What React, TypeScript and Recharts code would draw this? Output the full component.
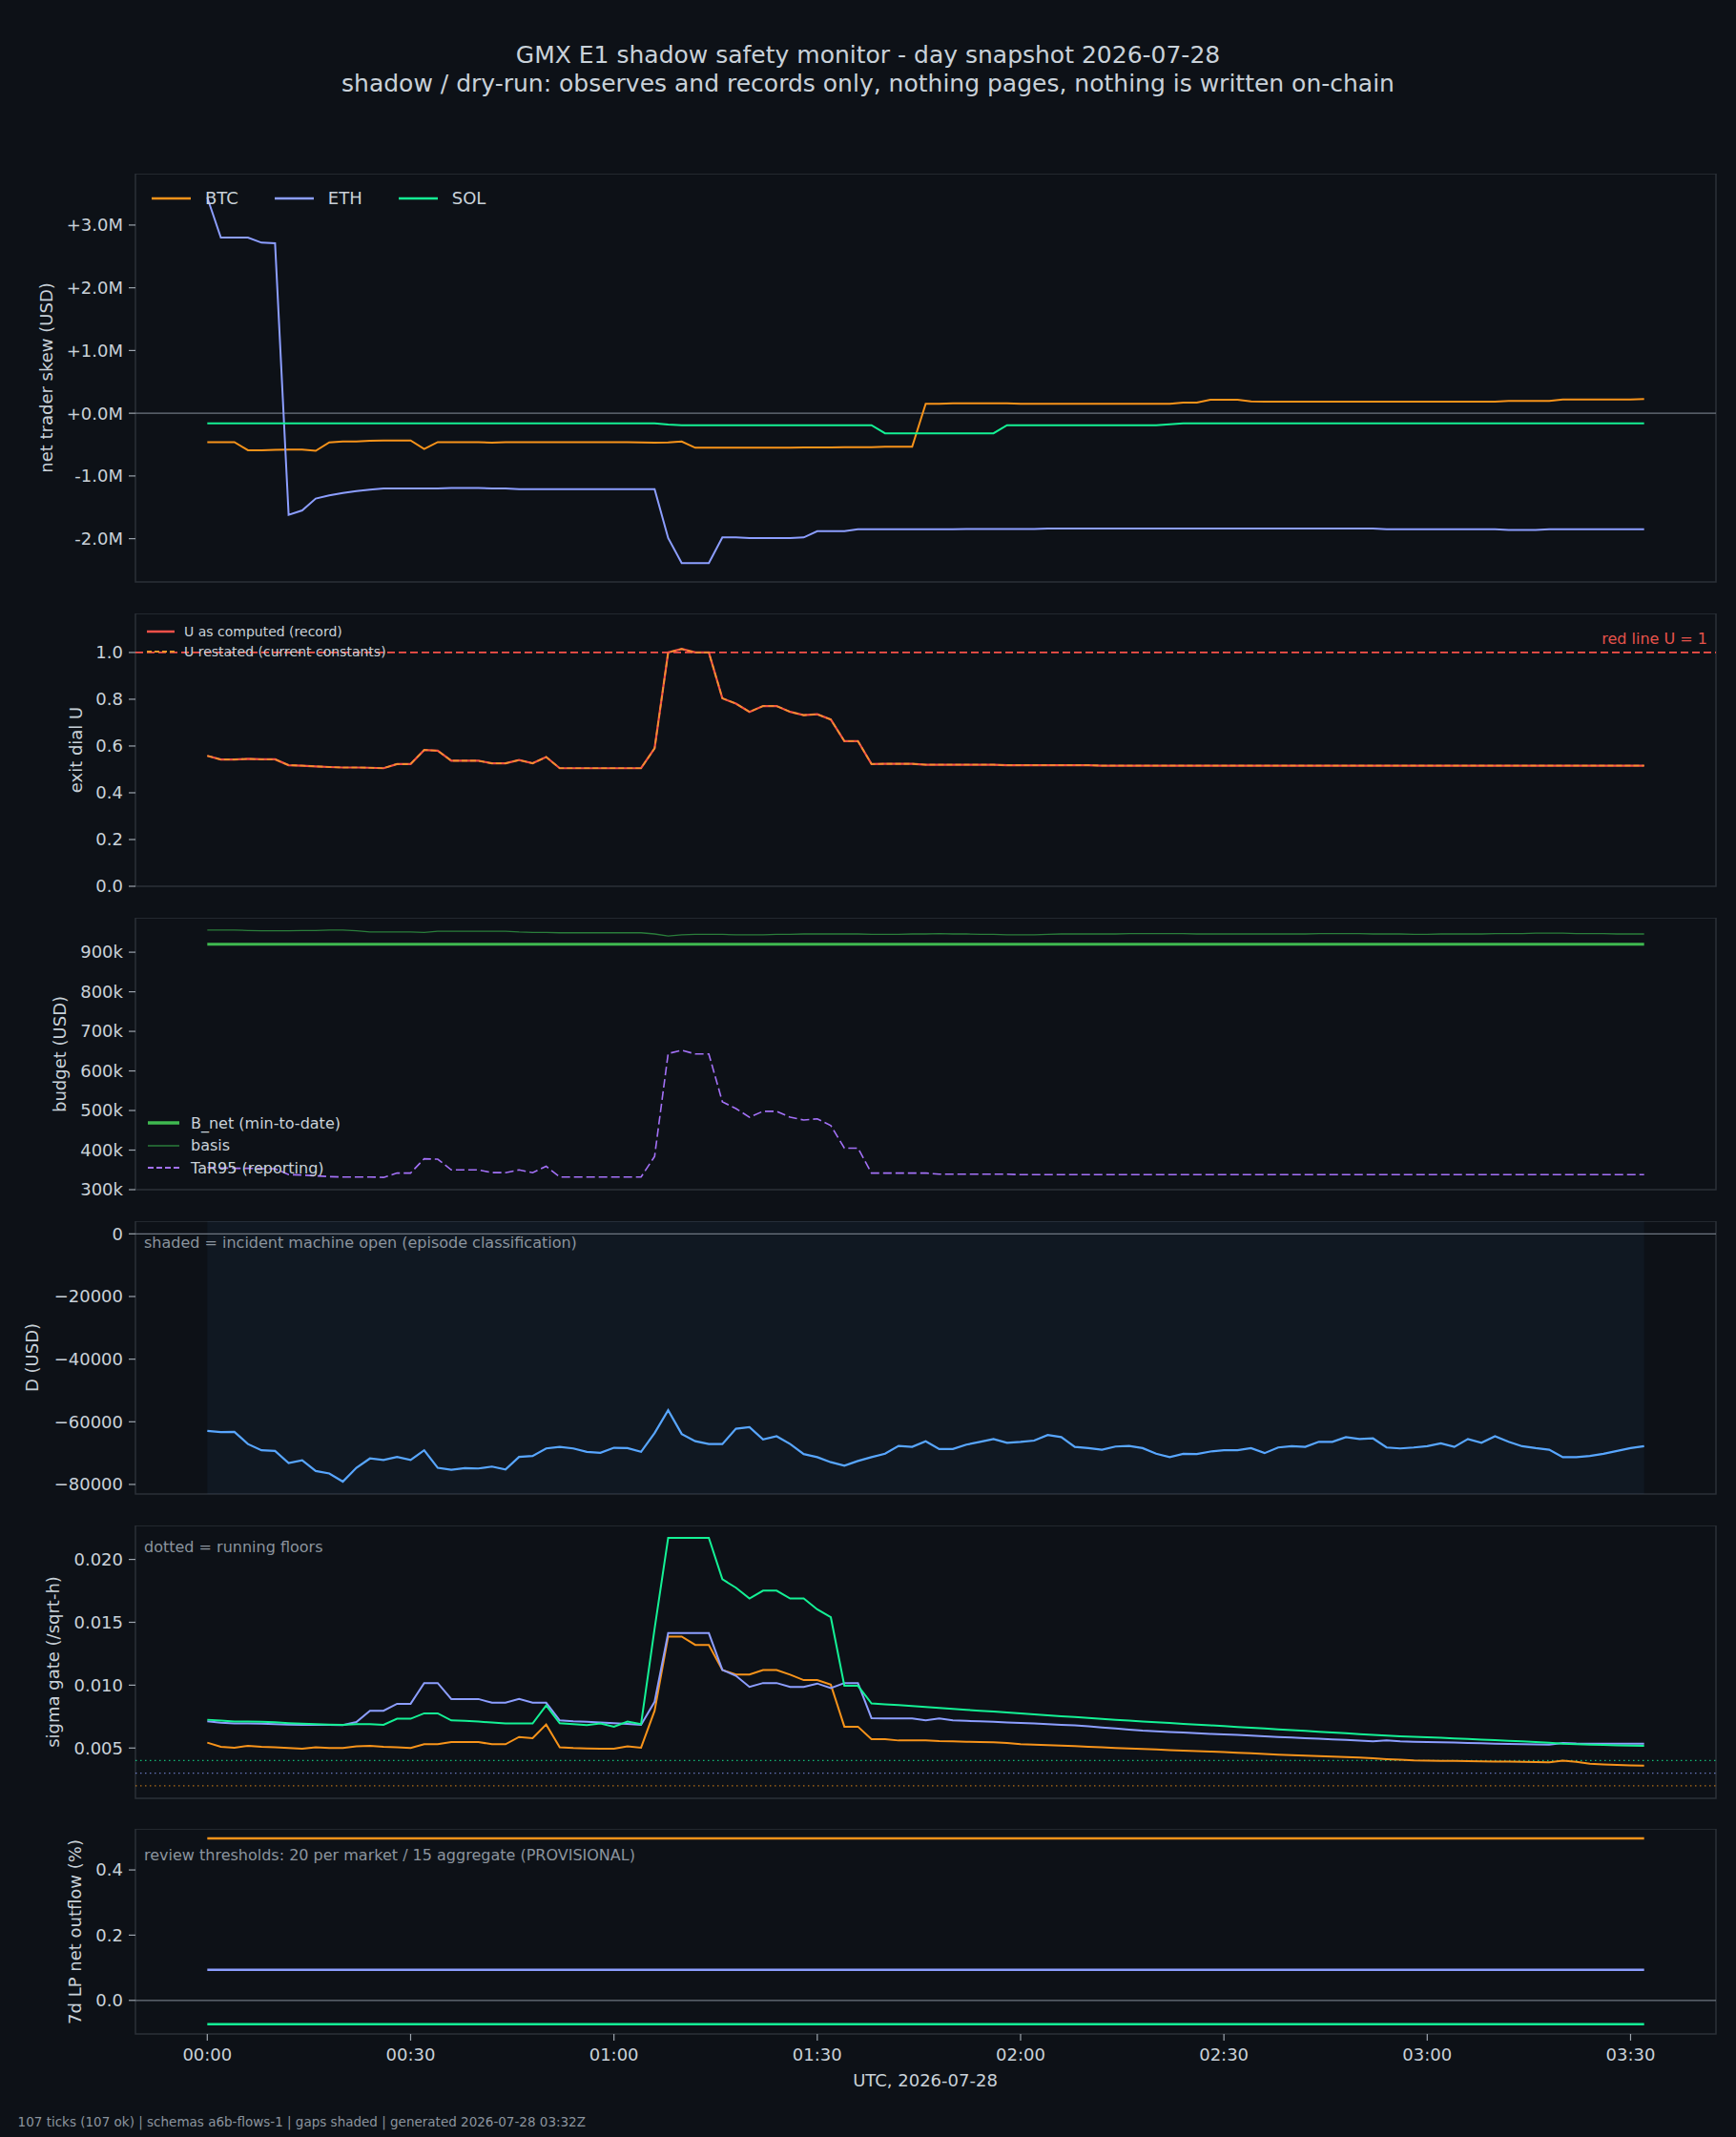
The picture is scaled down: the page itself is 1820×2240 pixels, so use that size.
import React from "react";
import { LineChart, Line, XAxis, YAxis, ReferenceLine, ReferenceArea } from "recharts";

const FONT = '"DejaVu Sans", sans-serif';
const BG = "#0d1117";
const FRAME = "#2b3038";
const TICK = "#9da5ae";
const TEXT = "#c9d1d9";
const MUTED = "#8b949e";
const C_BTC = "#f7931a";
const C_ETH = "#8c9eff";
const C_SOL = "#14f195";

// x axis: minutes since 00:00 UTC, one tick every 2 minutes (107 ticks)
const X_DOMAIN: [number, number] = [-10.6, 222.6];
const X_TICKS = [0, 30, 60, 90, 120, 150, 180, 210];
const X_TICK_LABELS = ["00:00", "00:30", "01:00", "01:30", "02:00", "02:30", "03:00", "03:30"];

// panel 1: net trader skew, millions USD
const skewBtc = [
  -0.46, -0.46, -0.46, -0.59, -0.59, -0.585, -0.58, -0.58, -0.6, -0.465,
  -0.45, -0.45, -0.44, -0.435, -0.435, -0.435, -0.57, -0.46, -0.46, -0.46,
  -0.46, -0.47, -0.46, -0.46, -0.46, -0.46, -0.46, -0.46, -0.46, -0.46,
  -0.46, -0.46, -0.465, -0.47, -0.465, -0.45, -0.55, -0.55, -0.55, -0.55,
  -0.55, -0.55, -0.55, -0.55, -0.545, -0.545, -0.545, -0.54, -0.54, -0.54,
  -0.535, -0.535, -0.535, 0.15, 0.15, 0.16, 0.16, 0.16, 0.16, 0.16,
  0.15, 0.15, 0.15, 0.15, 0.15, 0.15, 0.15, 0.15, 0.15, 0.15,
  0.15, 0.15, 0.17, 0.17, 0.215, 0.215, 0.215, 0.19, 0.185, 0.185,
  0.185, 0.185, 0.185, 0.185, 0.185, 0.185, 0.185, 0.185, 0.185, 0.185,
  0.185, 0.185, 0.185, 0.185, 0.185, 0.185, 0.195, 0.195, 0.195, 0.195,
  0.22, 0.22, 0.22, 0.22, 0.22, 0.22, 0.225,
];
const skewEth = [
  3.44, 2.8, 2.8, 2.8, 2.72, 2.71, -1.62, -1.55, -1.36, -1.31,
  -1.27, -1.24, -1.22, -1.2, -1.2, -1.2, -1.2, -1.2, -1.19, -1.19,
  -1.19, -1.2, -1.2, -1.21, -1.21, -1.21, -1.21, -1.21, -1.21, -1.21,
  -1.21, -1.21, -1.21, -1.21, -1.99, -2.39, -2.39, -2.39, -1.98, -1.98,
  -1.99, -1.99, -1.99, -1.99, -1.98, -1.88, -1.88, -1.88, -1.85, -1.85,
  -1.85, -1.85, -1.85, -1.85, -1.85, -1.85, -1.845, -1.845, -1.845, -1.845,
  -1.845, -1.845, -1.84, -1.84, -1.84, -1.84, -1.84, -1.84, -1.84, -1.84,
  -1.84, -1.84, -1.84, -1.84, -1.84, -1.84, -1.84, -1.84, -1.84, -1.84,
  -1.84, -1.84, -1.84, -1.84, -1.84, -1.84, -1.84, -1.85, -1.85, -1.85,
  -1.85, -1.85, -1.85, -1.85, -1.85, -1.85, -1.86, -1.86, -1.86, -1.85,
  -1.85, -1.85, -1.85, -1.85, -1.85, -1.85, -1.85,
];
const skewSol = [
  -0.16, -0.16, -0.16, -0.16, -0.16, -0.16, -0.16, -0.16, -0.16, -0.16,
  -0.16, -0.16, -0.16, -0.16, -0.16, -0.16, -0.16, -0.16, -0.16, -0.16,
  -0.16, -0.16, -0.16, -0.16, -0.16, -0.16, -0.16, -0.16, -0.16, -0.16,
  -0.16, -0.16, -0.16, -0.16, -0.18, -0.19, -0.19, -0.19, -0.19, -0.19,
  -0.19, -0.19, -0.19, -0.19, -0.19, -0.19, -0.19, -0.19, -0.19, -0.19,
  -0.32, -0.32, -0.32, -0.32, -0.32, -0.32, -0.32, -0.32, -0.32, -0.19,
  -0.19, -0.19, -0.19, -0.19, -0.19, -0.19, -0.19, -0.19, -0.19, -0.19,
  -0.19, -0.175, -0.16, -0.16, -0.16, -0.16, -0.16, -0.16, -0.16, -0.16,
  -0.16, -0.16, -0.16, -0.16, -0.16, -0.16, -0.16, -0.16, -0.16, -0.16,
  -0.16, -0.16, -0.16, -0.16, -0.16, -0.16, -0.16, -0.16, -0.16, -0.16,
  -0.16, -0.16, -0.16, -0.16, -0.16, -0.16, -0.16,
];

// panel 2: exit dial U
const uComputed = [
  0.558, 0.542, 0.542, 0.545, 0.543, 0.543, 0.518, 0.516, 0.513, 0.51,
  0.508, 0.508, 0.507, 0.505, 0.523, 0.523, 0.583, 0.58, 0.537, 0.537,
  0.537, 0.526, 0.526, 0.54, 0.526, 0.553, 0.505, 0.505, 0.505, 0.505,
  0.505, 0.505, 0.505, 0.59, 1.0, 1.015, 1.0, 1.0, 0.804, 0.781,
  0.746, 0.771, 0.771, 0.746, 0.732, 0.736, 0.713, 0.621, 0.621, 0.523,
  0.524, 0.524, 0.524, 0.52, 0.52, 0.52, 0.52, 0.52, 0.52, 0.518,
  0.518, 0.518, 0.518, 0.518, 0.518, 0.518, 0.516, 0.516, 0.516, 0.516,
  0.516, 0.516, 0.516, 0.516, 0.516, 0.516, 0.516, 0.516, 0.516, 0.516,
  0.516, 0.516, 0.516, 0.516, 0.516, 0.516, 0.516, 0.516, 0.516, 0.516,
  0.516, 0.516, 0.516, 0.516, 0.516, 0.516, 0.516, 0.516, 0.516, 0.516,
  0.516, 0.516, 0.516, 0.516, 0.516, 0.516, 0.516,
];
// the restated series sits exactly on top of the recorded one
const uRestated = uComputed;
const U_RED_LINE = 1;

// panel 3: budget, thousands USD
const bNet = [
  920, 920, 920, 920, 920, 920, 920, 920, 920, 920,
  920, 920, 920, 920, 920, 920, 920, 920, 920, 920,
  920, 920, 920, 920, 920, 920, 920, 920, 920, 920,
  920, 920, 920, 920, 920, 920, 920, 920, 920, 920,
  920, 920, 920, 920, 920, 920, 920, 920, 920, 920,
  920, 920, 920, 920, 920, 920, 920, 920, 920, 920,
  920, 920, 920, 920, 920, 920, 920, 920, 920, 920,
  920, 920, 920, 920, 920, 920, 920, 920, 920, 920,
  920, 920, 920, 920, 920, 920, 920, 920, 920, 920,
  920, 920, 920, 920, 920, 920, 920, 920, 920, 920,
  920, 920, 920, 920, 920, 920, 920,
];
const basis = [
  956, 956, 956, 955, 954, 954, 954, 955, 955, 956,
  956, 954, 951, 951, 951, 951, 950, 953, 953, 953,
  953, 953, 953, 951, 950, 950, 949, 949, 949, 949,
  949, 949, 949, 946, 941, 944, 945, 945, 945, 944,
  944, 944, 945, 945, 946, 946, 946, 946, 946, 945,
  945, 945, 946, 946, 947, 946, 946, 945, 945, 944,
  944, 944, 945, 946, 946, 946, 946, 946, 947, 947,
  947, 947, 947, 946, 946, 946, 946, 946, 946, 946,
  946, 946, 947, 947, 947, 947, 946, 946, 946, 945,
  945, 946, 946, 946, 946, 947, 947, 947, 948, 948,
  948, 947, 947, 947, 946, 946, 946,
];
const tar95 = [
  356, 355, 354, 354, 353, 353, 338, 337, 335, 333,
  332, 332, 332, 331, 342, 342, 378, 377, 350, 350,
  350, 343, 343, 350, 343, 359, 332, 332, 332, 332,
  332, 332, 332, 384, 644, 652, 643, 643, 522, 505,
  483, 498, 498, 483, 476, 479, 462, 405, 405, 342,
  342, 342, 342, 342, 339, 339, 339, 339, 339, 339,
  338, 338, 338, 338, 338, 338, 338, 338, 338, 338,
  338, 338, 338, 338, 338, 338, 338, 338, 338, 338,
  338, 338, 338, 338, 338, 338, 338, 338, 338, 338,
  338, 338, 338, 338, 338, 338, 338, 338, 338, 338,
  338, 338, 338, 338, 338, 338, 338,
];

// panel 4: D, USD
const dUsd = [
  -62900, -63300, -63200, -67100, -69100, -69300, -73200, -72300, -75700, -76500,
  -79100, -74700, -71700, -72200, -71200, -72200, -69100, -74700, -75300, -74800,
  -74900, -74300, -75200, -71200, -70900, -68500, -68000, -68500, -69600, -69900,
  -68300, -68400, -69600, -63600, -56300, -63900, -66200, -67100, -67100, -62200,
  -61700, -65600, -64600, -67100, -70300, -71300, -72900, -74000, -72500, -71300,
  -70200, -67700, -68000, -66200, -68700, -68700, -67300, -66400, -65500, -66700,
  -66400, -66000, -64200, -64900, -68000, -68400, -68900, -67900, -67700, -68400,
  -70200, -71300, -70200, -70300, -69500, -69100, -69100, -68400, -70000, -68200,
  -67800, -68000, -66400, -66400, -64900, -65500, -65300, -68200, -68500, -68200,
  -67800, -66900, -68000, -65500, -66700, -64600, -66400, -67800, -68400, -68900,
  -71300, -71300, -70900, -70200, -69300, -68400, -67800,
];

// panel 5: sigma gate per market and running floors
const sigmaBtc = [
  0.00543, 0.0051, 0.00503, 0.00518, 0.0051, 0.00506, 0.005, 0.00494, 0.00506, 0.005,
  0.005, 0.00513, 0.00518, 0.0051, 0.00506, 0.005, 0.0053, 0.0053, 0.00548, 0.00548,
  0.00548, 0.0053, 0.0053, 0.00588, 0.00578, 0.00687, 0.00506, 0.005, 0.00497, 0.00494,
  0.00494, 0.00513, 0.00503, 0.00797, 0.01387, 0.01387, 0.0132, 0.0132, 0.01121, 0.01084,
  0.01084, 0.01121, 0.01121, 0.01084, 0.0104, 0.0104, 0.01004, 0.0067, 0.0067, 0.00571,
  0.0057, 0.0056, 0.0056, 0.0056, 0.00555, 0.00553, 0.0055, 0.00548, 0.00545, 0.0054,
  0.0053, 0.00527, 0.00523, 0.0052, 0.00515, 0.0051, 0.00505, 0.005, 0.00496, 0.00492,
  0.00488, 0.00484, 0.0048, 0.00476, 0.00472, 0.00468, 0.00463, 0.00458, 0.00452, 0.00448,
  0.00444, 0.0044, 0.00436, 0.00432, 0.00428, 0.00424, 0.00418, 0.00412, 0.00407, 0.00402,
  0.004, 0.00398, 0.00397, 0.00395, 0.00394, 0.00393, 0.00392, 0.00391, 0.00389, 0.00386,
  0.004, 0.0039, 0.00375, 0.0037, 0.00366, 0.00362, 0.00359,
];
const sigmaEth = [
  0.00713, 0.00702, 0.00695, 0.00695, 0.00693, 0.0069, 0.00686, 0.00685, 0.00685, 0.00684,
  0.00683, 0.00707, 0.00797, 0.00797, 0.00852, 0.00852, 0.01017, 0.01017, 0.0089, 0.0089,
  0.0089, 0.0086, 0.0086, 0.0089, 0.0086, 0.0086, 0.0072, 0.00712, 0.00708, 0.00703,
  0.00698, 0.00692, 0.00684, 0.00868, 0.01414, 0.01414, 0.01414, 0.01414, 0.01121, 0.01075,
  0.00986, 0.01017, 0.01017, 0.00986, 0.00986, 0.01013, 0.00977, 0.01017, 0.01017, 0.00738,
  0.00735, 0.00735, 0.00735, 0.0072, 0.00735, 0.0072, 0.00716, 0.00712, 0.00708, 0.00704,
  0.007, 0.00695, 0.0069, 0.00685, 0.0068, 0.00672, 0.00664, 0.00656, 0.00647, 0.00638,
  0.00633, 0.00628, 0.00624, 0.00618, 0.00613, 0.00608, 0.00604, 0.00598, 0.00594, 0.00588,
  0.00583, 0.00578, 0.00574, 0.00569, 0.00564, 0.00559, 0.00554, 0.0056, 0.00553, 0.0055,
  0.00548, 0.00545, 0.00543, 0.0054, 0.00538, 0.00535, 0.00533, 0.0053, 0.00528, 0.00526,
  0.0054, 0.00536, 0.00535, 0.00535, 0.00534, 0.00534, 0.00534,
];
const sigmaSol = [
  0.00725, 0.00718, 0.0071, 0.0071, 0.00708, 0.00705, 0.00698, 0.00693, 0.0069, 0.00687,
  0.00685, 0.0069, 0.0069, 0.00685, 0.00733, 0.00733, 0.00776, 0.00776, 0.0072, 0.00716,
  0.0071, 0.00703, 0.00695, 0.00695, 0.00695, 0.00839, 0.00697, 0.0069, 0.00683, 0.00695,
  0.0067, 0.0071, 0.0069, 0.0145, 0.02171, 0.02171, 0.02171, 0.02171, 0.01842, 0.01775,
  0.01689, 0.01752, 0.01752, 0.01689, 0.01689, 0.01603, 0.0154, 0.00995, 0.00995, 0.00855,
  0.00848, 0.00841, 0.00834, 0.00826, 0.00819, 0.00812, 0.00804, 0.00797, 0.0079, 0.00782,
  0.00775, 0.00768, 0.0076, 0.00753, 0.00746, 0.0074, 0.00732, 0.00724, 0.00718, 0.00711,
  0.00705, 0.00699, 0.00692, 0.00686, 0.0068, 0.00674, 0.00668, 0.00661, 0.00655, 0.00649,
  0.00642, 0.00636, 0.0063, 0.00624, 0.00617, 0.00611, 0.00604, 0.00598, 0.00594, 0.0059,
  0.00585, 0.00581, 0.00576, 0.00572, 0.00567, 0.00563, 0.00558, 0.00553, 0.00548, 0.00542,
  0.00534, 0.0053, 0.00527, 0.00524, 0.00521, 0.00519, 0.00517,
];
const floorBtc = 0.002;
const floorEth = 0.003;
const floorSol = 0.004;

// panel 6: 7d LP net outflow, percent
const lpBtc = [
  0.497, 0.497, 0.497, 0.497, 0.497, 0.497, 0.497, 0.497, 0.497, 0.497,
  0.497, 0.497, 0.497, 0.497, 0.497, 0.497, 0.497, 0.497, 0.497, 0.497,
  0.497, 0.497, 0.497, 0.497, 0.497, 0.497, 0.497, 0.497, 0.497, 0.497,
  0.497, 0.497, 0.497, 0.497, 0.497, 0.497, 0.497, 0.497, 0.497, 0.497,
  0.497, 0.497, 0.497, 0.497, 0.497, 0.497, 0.497, 0.497, 0.497, 0.497,
  0.497, 0.497, 0.497, 0.497, 0.497, 0.497, 0.497, 0.497, 0.497, 0.497,
  0.497, 0.497, 0.497, 0.497, 0.497, 0.497, 0.497, 0.497, 0.497, 0.497,
  0.497, 0.497, 0.497, 0.497, 0.497, 0.497, 0.497, 0.497, 0.497, 0.497,
  0.497, 0.497, 0.497, 0.497, 0.497, 0.497, 0.497, 0.497, 0.497, 0.497,
  0.497, 0.497, 0.497, 0.497, 0.497, 0.497, 0.497, 0.497, 0.497, 0.497,
  0.497, 0.497, 0.497, 0.497, 0.497, 0.497, 0.497,
];
const lpEth = [
  0.094, 0.094, 0.094, 0.094, 0.094, 0.094, 0.094, 0.094, 0.094, 0.094,
  0.094, 0.094, 0.094, 0.094, 0.094, 0.094, 0.094, 0.094, 0.094, 0.094,
  0.094, 0.094, 0.094, 0.094, 0.094, 0.094, 0.094, 0.094, 0.094, 0.094,
  0.094, 0.094, 0.094, 0.094, 0.094, 0.094, 0.094, 0.094, 0.094, 0.094,
  0.094, 0.094, 0.094, 0.094, 0.094, 0.094, 0.094, 0.094, 0.094, 0.094,
  0.094, 0.094, 0.094, 0.094, 0.094, 0.094, 0.094, 0.094, 0.094, 0.094,
  0.094, 0.094, 0.094, 0.094, 0.094, 0.094, 0.094, 0.094, 0.094, 0.094,
  0.094, 0.094, 0.094, 0.094, 0.094, 0.094, 0.094, 0.094, 0.094, 0.094,
  0.094, 0.094, 0.094, 0.094, 0.094, 0.094, 0.094, 0.094, 0.094, 0.094,
  0.094, 0.094, 0.094, 0.094, 0.094, 0.094, 0.094, 0.094, 0.094, 0.094,
  0.094, 0.094, 0.094, 0.094, 0.094, 0.094, 0.094,
];
const lpSol = [
  -0.073, -0.073, -0.073, -0.073, -0.073, -0.073, -0.073, -0.073, -0.073, -0.073,
  -0.073, -0.073, -0.073, -0.073, -0.073, -0.073, -0.073, -0.073, -0.073, -0.073,
  -0.073, -0.073, -0.073, -0.073, -0.073, -0.073, -0.073, -0.073, -0.073, -0.073,
  -0.073, -0.073, -0.073, -0.073, -0.073, -0.073, -0.073, -0.073, -0.073, -0.073,
  -0.073, -0.073, -0.073, -0.073, -0.073, -0.073, -0.073, -0.073, -0.073, -0.073,
  -0.073, -0.073, -0.073, -0.073, -0.073, -0.073, -0.073, -0.073, -0.073, -0.073,
  -0.073, -0.073, -0.073, -0.073, -0.073, -0.073, -0.073, -0.073, -0.073, -0.073,
  -0.073, -0.073, -0.073, -0.073, -0.073, -0.073, -0.073, -0.073, -0.073, -0.073,
  -0.073, -0.073, -0.073, -0.073, -0.073, -0.073, -0.073, -0.073, -0.073, -0.073,
  -0.073, -0.073, -0.073, -0.073, -0.073, -0.073, -0.073, -0.073, -0.073, -0.073,
  -0.073, -0.073, -0.073, -0.073, -0.073, -0.073, -0.073,
];

const minutes = skewBtc.map((_, i) => i * 2);

const skewRows = minutes.map((t, i) => ({ t, btc: skewBtc[i], eth: skewEth[i], sol: skewSol[i] }));
const uRows = minutes.map((t, i) => ({ t, computed: uComputed[i], restated: uRestated[i] }));
const budgetRows = minutes.map((t, i) => ({ t, bnet: bNet[i], basis: basis[i], tar: tar95[i] }));
const dRows = minutes.map((t, i) => ({ t, d: dUsd[i] }));
const sigmaRows = minutes.map((t, i) => ({ t, btc: sigmaBtc[i], eth: sigmaEth[i], sol: sigmaSol[i] }));
const lpRows = minutes.map((t, i) => ({ t, btc: lpBtc[i], eth: lpEth[i], sol: lpSol[i] }));

const fmtClock = (v: number) => X_TICK_LABELS[X_TICKS.indexOf(v)] ?? "";
const fmtSkew = (v: number) => (v >= 0 ? "+" : "") + v.toFixed(1) + "M";
const fmtOne = (v: number) => v.toFixed(1);
const fmtK = (v: number) => `${v}k`;
const fmtD = (v: number) => (v < 0 ? "\u2212" + Math.abs(v) : String(v));
const fmtSigma = (v: number) => v.toFixed(3);

interface PanelProps {
  top: number;
  height: number;
  rows: any[];
  yDomain: [number, number];
  yTicks: number[];
  yFormat: (v: number) => string;
  yTitle: string;
  yTitleX: number;
  showXLabels?: boolean;
  children: React.ReactNode;
}

function Panel({ top, height, rows, yDomain, yTicks, yFormat, yTitle, yTitleX, showXLabels, children }: PanelProps) {
  const axisH = showXLabels ? 40 : 12;
  return (
    <div style={{ position: "absolute", left: 0, top, width: 1820, height: height + axisH }}>
      <LineChart width={1820} height={height + axisH} data={rows} margin={{ top: 0, right: 21, bottom: 0, left: 62 }}>
        <XAxis
          dataKey="t"
          type="number"
          domain={X_DOMAIN}
          ticks={X_TICKS}
          interval={0}
          allowDataOverflow
          height={axisH}
          axisLine={false}
          tickLine={{ stroke: TICK, strokeWidth: 1.2 }}
          tickSize={7}
          tickMargin={8}
          tick={showXLabels ? { fill: TEXT, fontSize: 18, fontFamily: FONT } : false}
          tickFormatter={fmtClock}
        />
        <YAxis
          type="number"
          domain={yDomain}
          ticks={yTicks}
          interval={0}
          allowDataOverflow
          width={80}
          axisLine={false}
          tickLine={{ stroke: TICK, strokeWidth: 1.2 }}
          tickSize={7}
          tickMargin={6}
          tick={{ fill: TEXT, fontSize: 18, fontFamily: FONT }}
          tickFormatter={yFormat}
        />
        <ReferenceArea
          x1={X_DOMAIN[0]}
          x2={X_DOMAIN[1]}
          y1={yDomain[0]}
          y2={yDomain[1]}
          fill="none"
          stroke={FRAME}
          strokeWidth={1.5}
          ifOverflow="visible"
        />
        {children}
      </LineChart>
      <div
        style={{
          position: "absolute",
          left: yTitleX,
          top: height / 2,
          transform: "translate(-50%, -50%) rotate(-90deg)",
          whiteSpace: "nowrap",
          color: TEXT,
          fontSize: 18,
          lineHeight: "22px",
        }}
      >
        {yTitle}
      </div>
    </div>
  );
}

interface LegendItem {
  label: string;
  color: string;
  width: number;
  dash?: string;
}

function LegendBox(props: {
  items: LegendItem[];
  left: number;
  top: number;
  fontSize: number;
  lineLen: number;
  gap: number;
  row?: boolean;
  rowStep?: number;
  itemGap?: number;
}) {
  const { items, left, top, fontSize, lineLen, gap, row, rowStep = 22, itemGap = 38 } = props;
  return (
    <div
      style={{
        position: "absolute",
        left,
        top: top - rowStep / 2,
        display: "flex",
        flexDirection: row ? "row" : "column",
        color: TEXT,
        fontSize,
      }}
    >
      {items.map((it) => (
        <div
          key={it.label}
          style={{ display: "flex", alignItems: "center", height: rowStep, marginRight: row ? itemGap : 0 }}
        >
          <svg width={lineLen} height={10} style={{ marginRight: gap }}>
            <line x1={0} y1={5} x2={lineLen} y2={5} stroke={it.color} strokeWidth={it.width} strokeDasharray={it.dash} />
          </svg>
          <span style={{ whiteSpace: "nowrap" }}>{it.label}</span>
        </div>
      ))}
    </div>
  );
}

const note = (text: string, top: number) => (
  <div style={{ position: "absolute", left: 151, top: top - 10, lineHeight: "20px", fontSize: 16, color: MUTED, whiteSpace: "nowrap" }}>
    {text}
  </div>
);

export default function App() {
  return (
    <div
      style={{
        position: "absolute",
        left: 0,
        top: 0,
        width: 1820,
        height: 2240,
        background: BG,
        fontFamily: FONT,
        overflow: "hidden",
      }}
    >
      <div style={{ position: "absolute", left: 0, top: 43, width: 1820, textAlign: "center", color: TEXT, fontSize: 25, lineHeight: "30px" }}>
        GMX E1 shadow safety monitor - day snapshot 2026-07-28
        <br />
        shadow / dry-run: observes and records only, nothing pages, nothing is written on-chain
      </div>

      {/* 1: net trader skew */}
      <Panel top={182} height={428} rows={skewRows} yDomain={[-2.69, 3.82]} yTicks={[-2, -1, 0, 1, 2, 3]} yFormat={fmtSkew} yTitle="net trader skew (USD)" yTitleX={49}>
        <ReferenceLine y={0} stroke="#6e7681" strokeWidth={1.2} />
        <Line dataKey="btc" stroke={C_BTC} strokeWidth={2} dot={false} activeDot={false} isAnimationActive={false} />
        <Line dataKey="eth" stroke={C_ETH} strokeWidth={2} dot={false} activeDot={false} isAnimationActive={false} />
        <Line dataKey="sol" stroke={C_SOL} strokeWidth={2} dot={false} activeDot={false} isAnimationActive={false} />
      </Panel>

      {/* 2: exit dial U */}
      <Panel top={643} height={286} rows={uRows} yDomain={[0, 1.167]} yTicks={[0, 0.2, 0.4, 0.6, 0.8, 1]} yFormat={fmtOne} yTitle="exit dial U" yTitleX={80}>
        <ReferenceLine
          y={U_RED_LINE}
          stroke="#f85149"
          strokeWidth={1.8}
          strokeDasharray="8 4"
          label={{ value: "red line U = 1", position: "insideBottomRight", offset: 9, fill: "#e5534b", fontSize: 16, fontFamily: FONT }}
        />
        <Line dataKey="computed" stroke="#f85149" strokeWidth={2.2} dot={false} activeDot={false} isAnimationActive={false} />
        <Line dataKey="restated" stroke="#f0962a" strokeWidth={1.6} strokeDasharray="6 3" dot={false} activeDot={false} isAnimationActive={false} />
      </Panel>

      {/* 3: budget */}
      <Panel top={962} height={285} rows={budgetRows} yDomain={[300, 987]} yTicks={[300, 400, 500, 600, 700, 800, 900]} yFormat={fmtK} yTitle="budget (USD)" yTitleX={62.5}>
        <Line dataKey="basis" stroke="#2a7d3b" strokeWidth={1.3} dot={false} activeDot={false} isAnimationActive={false} />
        <Line dataKey="bnet" stroke="#3fb950" strokeWidth={3} dot={false} activeDot={false} isAnimationActive={false} />
        <Line dataKey="tar" stroke="#a371f7" strokeWidth={1.6} strokeDasharray="9 4" dot={false} activeDot={false} isAnimationActive={false} />
      </Panel>

      {/* 4: D */}
      <Panel top={1280} height={286} rows={dRows} yDomain={[-83050, 4060]} yTicks={[-80000, -60000, -40000, -20000, 0]} yFormat={fmtD} yTitle="D (USD)" yTitleX={33.5}>
        <ReferenceArea x1={minutes[0]} x2={minutes[minutes.length - 1]} fill="#58a6ff" fillOpacity={0.05} stroke="none" ifOverflow="visible" />
        <ReferenceLine y={0} stroke="#6e7681" strokeWidth={1.2} />
        <Line dataKey="d" stroke="#58a6ff" strokeWidth={2.2} dot={false} activeDot={false} isAnimationActive={false} />
      </Panel>

      {/* 5: sigma gate */}
      <Panel top={1599} height={286} rows={sigmaRows} yDomain={[0.001, 0.0227]} yTicks={[0.005, 0.01, 0.015, 0.02]} yFormat={fmtSigma} yTitle="sigma gate (/sqrt-h)" yTitleX={56}>
        <ReferenceLine y={floorSol} stroke={C_SOL} strokeOpacity={0.75} strokeWidth={1.2} strokeDasharray="1.5 3.5" />
        <ReferenceLine y={floorEth} stroke={C_ETH} strokeOpacity={0.7} strokeWidth={1.2} strokeDasharray="1.5 3.5" />
        <ReferenceLine y={floorBtc} stroke={C_BTC} strokeOpacity={0.7} strokeWidth={1.2} strokeDasharray="1.5 3.5" />
        <Line dataKey="btc" stroke={C_BTC} strokeWidth={2} dot={false} activeDot={false} isAnimationActive={false} />
        <Line dataKey="eth" stroke={C_ETH} strokeWidth={2} dot={false} activeDot={false} isAnimationActive={false} />
        <Line dataKey="sol" stroke={C_SOL} strokeWidth={2} dot={false} activeDot={false} isAnimationActive={false} />
      </Panel>

      {/* 6: LP outflow */}
      <Panel top={1917} height={215} rows={lpRows} yDomain={[-0.103, 0.526]} yTicks={[0, 0.2, 0.4]} yFormat={fmtOne} yTitle="7d LP net outflow (%)" yTitleX={79} showXLabels>
        <ReferenceLine y={0} stroke="#6e7681" strokeWidth={1.2} />
        <Line dataKey="btc" stroke={C_BTC} strokeWidth={2.5} dot={false} activeDot={false} isAnimationActive={false} />
        <Line dataKey="eth" stroke={C_ETH} strokeWidth={2.5} dot={false} activeDot={false} isAnimationActive={false} />
        <Line dataKey="sol" stroke={C_SOL} strokeWidth={2.5} dot={false} activeDot={false} isAnimationActive={false} />
      </Panel>

      <LegendBox
        row
        left={159}
        top={207.7}
        fontSize={18}
        lineLen={41}
        gap={15}
        itemGap={38}
        items={[
          { label: "BTC", color: C_BTC, width: 2.5 },
          { label: "ETH", color: C_ETH, width: 2.5 },
          { label: "SOL", color: C_SOL, width: 2.5 },
        ]}
      />
      <LegendBox
        left={154}
        top={661.7}
        fontSize={14}
        lineLen={29}
        gap={10}
        rowStep={21}
        items={[
          { label: "U as computed (record)", color: "#f85149", width: 2.5 },
          { label: "U restated (current constants)", color: "#f0962a", width: 1.8, dash: "5 3" },
        ]}
      />
      <LegendBox
        left={155}
        top={1177}
        fontSize={16}
        lineLen={33}
        gap={12}
        rowStep={23.5}
        items={[
          { label: "B_net (min-to-date)", color: "#3fb950", width: 3.5 },
          { label: "basis", color: "#2a7d3b", width: 1.5 },
          { label: "TaR95 (reporting)", color: "#a371f7", width: 1.8, dash: "6 3" },
        ]}
      />

      {note("shaded = incident machine open (episode classification)", 1303.3)}
      {note("dotted = running floors", 1622.3)}
      {note("review thresholds: 20 per market / 15 aggregate (PROVISIONAL)", 1945)}

      <div style={{ position: "absolute", left: 0, top: 2170, width: 1940, textAlign: "center", color: TEXT, fontSize: 18, lineHeight: "22px" }}>
        UTC, 2026-07-28
      </div>
      <div style={{ position: "absolute", left: 18.6, top: 2215, color: MUTED, fontSize: 13.5, lineHeight: "18px", whiteSpace: "nowrap" }}>
        107 ticks (107 ok) | schemas a6b-flows-1 | gaps shaded | generated 2026-07-28 03:32Z
      </div>
    </div>
  );
}
